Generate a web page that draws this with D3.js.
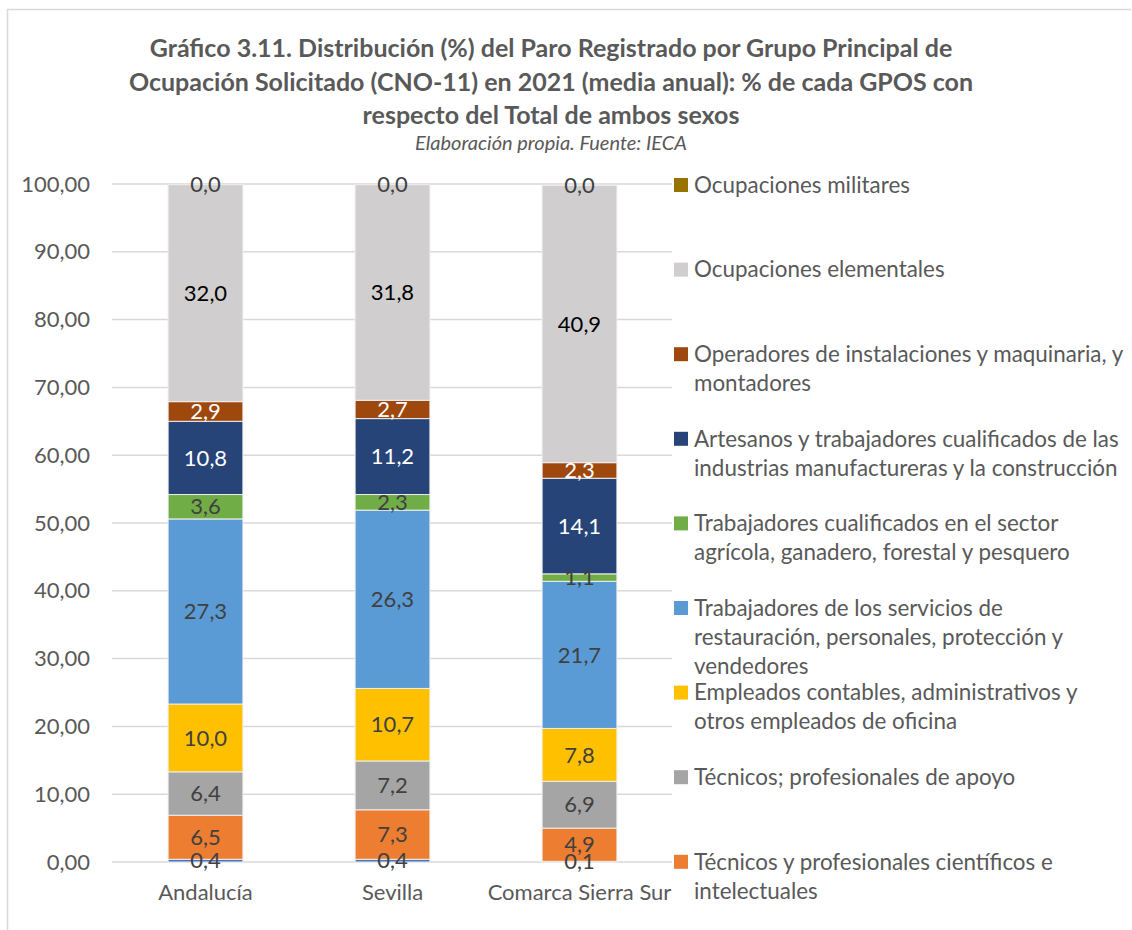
<!DOCTYPE html>
<html>
<head>
<meta charset="utf-8">
<script src="https://cdn.jsdelivr.net/npm/d3@7"></script>
<style>
  body { margin: 0; background: #fff; }
  svg { display: block; }
  text { font-family: Lato, "Open Sans", sans-serif; }
</style>
</head>
<body>
<svg id="chart" width="1132" height="930"></svg>
<script>
// Territories on the x axis
const categories = ["Andalucía", "Sevilla", "Comarca Sierra Sur"];

// Share (%) of registered unemployment by occupation group, bottom to top of each bar
const directores   = [0.4, 0.4, 0.1];
const cientificos  = [6.5, 7.3, 4.9];
const apoyo        = [6.4, 7.2, 6.9];
const contables    = [10.0, 10.7, 7.8];
const servicios    = [27.3, 26.3, 21.7];
const agricolas    = [3.6, 2.3, 1.1];
const artesanos    = [10.8, 11.2, 14.1];
const operadores   = [2.9, 2.7, 2.3];
const elementales  = [32.0, 31.8, 40.9];
const militares    = [0.0, 0.0, 0.0];

const seriesNames = [
  "Directores y gerentes",
  "Técnicos y profesionales científicos e intelectuales",
  "Técnicos; profesionales de apoyo",
  "Empleados contables, administrativos y otros empleados de oficina",
  "Trabajadores de los servicios de restauración, personales, protección y vendedores",
  "Trabajadores cualificados en el sector agrícola, ganadero, forestal y pesquero",
  "Artesanos y trabajadores cualificados de las industrias manufactureras y la construcción",
  "Operadores de instalaciones y maquinaria, y montadores",
  "Ocupaciones elementales",
  "Ocupaciones militares"
];
const seriesValues = [directores, cientificos, apoyo, contables, servicios,
                      agricolas, artesanos, operadores, elementales, militares];

// Legend text as it wraps in the legend column
const legendLines = [
  ["Directores y gerentes"],
  ["Técnicos y profesionales científicos e", "intelectuales"],
  ["Técnicos; profesionales de apoyo"],
  ["Empleados contables, administrativos y", "otros empleados de oficina"],
  ["Trabajadores de los servicios de", "restauración, personales, protección y", "vendedores"],
  ["Trabajadores cualificados en el sector", "agrícola, ganadero, forestal y pesquero"],
  ["Artesanos y trabajadores cualificados de las", "industrias manufactureras y la construcción"],
  ["Operadores de instalaciones y maquinaria, y", "montadores"],
  ["Ocupaciones elementales"],
  ["Ocupaciones militares"]
];

const yTicks = [0, 10, 20, 30, 40, 50, 60, 70, 80, 90, 100];

const titleLines = [
  "Gráfico 3.11. Distribución (%) del Paro Registrado por Grupo Principal de",
  "Ocupación Solicitado (CNO-11) en 2021 (media anual): % de cada GPOS con",
  "respecto del Total de ambos sexos"
];
const subtitle = "Elaboración propia. Fuente: IECA";

const colors = ["#4472C4", "#ED7D31", "#A5A5A5", "#FFC000", "#5B9BD5",
                "#70AD47", "#264478", "#9E480E", "#D0CECE", "#997300"];
const labelColors = ["#404040", "#404040", "#404040", "#404040", "#404040",
                     "#404040", "#FFFFFF", "#FFFFFF", "#000000", "#404040"];

const svg = d3.select("#chart");
const fmt1 = d => d.toFixed(1).replace(".", ",");
const fmt2 = d => d.toFixed(2).replace(".", ",");
const FONT = "Lato, 'Open Sans', sans-serif";

// Chart frame
svg.append("line").attr("x1", 7).attr("x2", 1131).attr("y1", 9.5).attr("y2", 9.5)
  .attr("stroke", "#d9d9d9").attr("stroke-width", 1.5);
svg.append("line").attr("x1", 7.5).attr("x2", 7.5).attr("y1", 9).attr("y2", 930)
  .attr("stroke", "#d9d9d9").attr("stroke-width", 1.5);

// Title
const titleG = svg.append("g").attr("fill", "#595959").attr("text-anchor", "middle");
titleLines.forEach((t, i) => {
  titleG.append("text").attr("x", 551).attr("y", 57 + i * 33.5)
    .attr("font-size", 25).attr("font-weight", "bold").text(t);
});
titleG.append("text").attr("x", 551).attr("y", 150)
  .attr("font-size", 20).attr("font-style", "italic").text(subtitle);

// Scales
const x = d3.scaleBand().domain(categories).range([112, 673]).paddingInner(0.6).paddingOuter(0.3);
const y = d3.scaleLinear().domain([0, 100]).range([862, 184]);

// Gridlines
svg.append("g").selectAll("line").data(yTicks).join("line")
  .attr("x1", 112).attr("x2", 672)
  .attr("y1", d => y(d)).attr("y2", d => y(d))
  .attr("stroke", "#d9d9d9").attr("stroke-width", 1.5);

// Y axis
const yAxis = svg.append("g").attr("transform", "translate(112,0)")
  .call(d3.axisLeft(y).tickValues(yTicks).tickFormat(fmt2).tickSize(0).tickPadding(22));
yAxis.select(".domain").remove();
yAxis.selectAll("text").attr("font-size", 22).attr("fill", "#595959").style("font-family", FONT);

// X axis
const xAxis = svg.append("g").attr("transform", "translate(0,862)")
  .call(d3.axisBottom(x).tickSize(0).tickPadding(22));
xAxis.select(".domain").remove();
xAxis.selectAll("text").attr("font-size", 22).attr("fill", "#595959").style("font-family", FONT);

// Stack
const rows = categories.map((c, i) => {
  const r = { cat: c };
  seriesNames.forEach((s, k) => { r[s] = seriesValues[k][i]; });
  return r;
});
const stacked = d3.stack().keys(seriesNames)(rows);

const layers = svg.append("g").selectAll("g").data(stacked).join("g")
  .attr("fill", (d, i) => colors[i]);
layers.selectAll("rect").data(d => d).join("rect")
  .attr("x", d => x(d.data.cat))
  .attr("width", x.bandwidth())
  .attr("y", d => y(d[1]))
  .attr("height", d => Math.max(0, y(d[0]) - y(d[1])))
  .attr("stroke", "#eeeeee").attr("stroke-width", 1);

// Value labels centred in each segment
const labelG = svg.append("g").attr("text-anchor", "middle");
stacked.forEach((layer, i) => {
  labelG.selectAll(null).data(layer).join("text")
    .attr("x", d => x(d.data.cat) + x.bandwidth() / 2)
    .attr("y", d => y((d[0] + d[1]) / 2))
    .attr("dy", "0.35em")
    .attr("font-size", 22)
    .attr("fill", labelColors[i])
    .text(d => fmt1(d.data[layer.key]));
});

// Legend, top item = top of stack
const legendOrder = d3.range(seriesNames.length - 1, 0, -1);
const legend = svg.append("g");
legendOrder.forEach((k, j) => {
  const cy = 185 + j * 84.6;
  legend.append("rect").attr("x", 674).attr("y", cy - 7).attr("width", 14).attr("height", 14)
    .attr("fill", colors[k]);
  legendLines[k].forEach((line, li) => {
    legend.append("text").attr("x", 694).attr("y", cy + li * 29).attr("dy", "0.35em")
      .attr("font-size", 22.4).attr("fill", "#595959").text(line);
  });
});
</script>
</body>
</html>
